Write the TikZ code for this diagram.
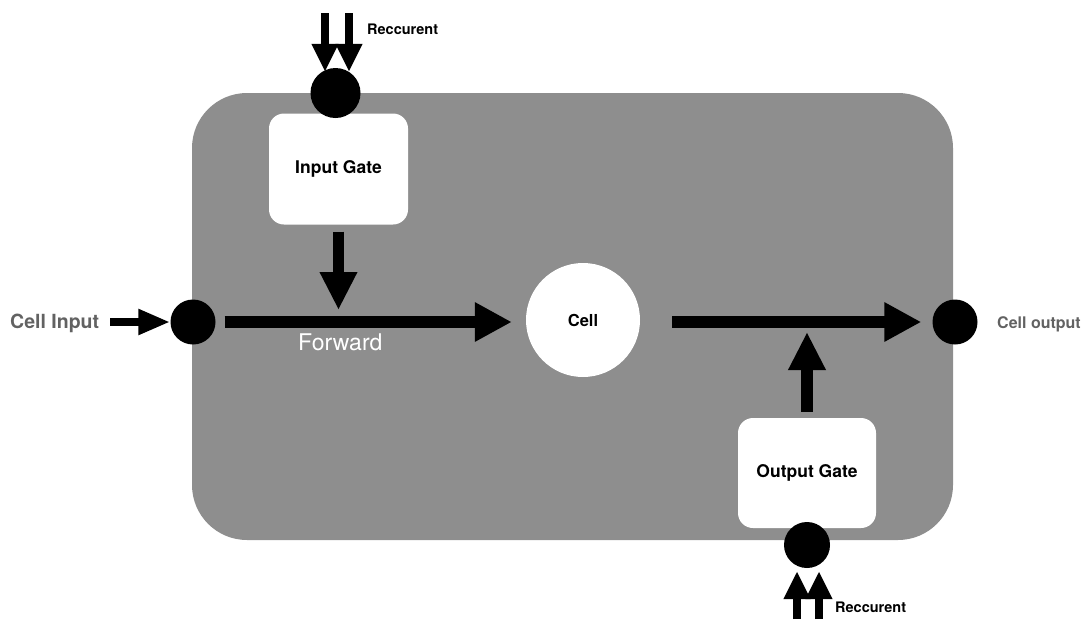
\documentclass[tikz,border=0pt]{standalone}
\usepackage{fontspec}
\setmainfont{TeX Gyre Heros}
\usetikzlibrary{arrows.meta}
\definecolor{cellbg}{RGB}{142,142,142}
\definecolor{labelgray}{RGB}{98,98,98}
\begin{document}
\begin{tikzpicture}[x=1pt,y=-1pt,
  dot/.style={circle,fill=black,inner sep=0pt,minimum size=#1},
  gatebox/.style={rectangle,rounded corners=15pt,fill=white,
    minimum width=139pt,minimum height=111pt,inner sep=0pt,
    font=\fontsize{17.5}{20}\selectfont\bfseries},
  bigarrow/.style={line width=12pt,-{Triangle[length=37pt,width=37pt]}},
  gatearrow/.style={line width=11.5pt,-{Triangle[length=38pt,width=35pt]}},
  smallarrow/.style={line width=8pt,-{Triangle[length=32pt,width=24pt]}},
  recarrow/.style={line width=8pt,-{Triangle[length=28pt,width=25pt]}},
  reclabel/.style={anchor=base west,inner sep=0pt,font=\fontsize{14.5}{17}\selectfont\bfseries},
  sidelabel/.style={anchor=base west,inner sep=0pt,text=labelgray}
]
\useasboundingbox (0,0) rectangle (1084,619);

% memory block background
\fill[cellbg,rounded corners=55pt] (192,93) rectangle (953,540);

% gates and cell
\node[gatebox] (ig) at (338.5,169) {Input Gate};
\node[gatebox,minimum height=110pt,minimum width=138pt] (og) at (807,473) {Output Gate};
\node[circle,fill=white,inner sep=0pt,minimum size=114pt,
      font=\fontsize{16.5}{19}\selectfont\bfseries] (cell) at (583,320) {Cell};

% junction dots
\node[dot=50pt] (tin) at (335.5,93) {};
\node[dot=46pt] (bout) at (807,545) {};
\node[dot=45pt] (lin) at (193,322) {};
\node[dot=45pt] (rout) at (955,322) {};

% labels
\node[sidelabel,font=\fontsize{19.5}{23}\selectfont\bfseries] (cin) at (10,328) {Cell Input};
\node[sidelabel,font=\fontsize{16}{19}\selectfont\bfseries] (cout) at (997,328) {Cell output};
\node[anchor=base west,inner sep=0pt,text=white,font=\fontsize{23}{27}\selectfont] (fwd) at (298,350) {Forward};
\node[reclabel] (rtop) at (367,34) {Reccurent};
\node[reclabel] (rbot) at (835,612) {Reccurent};

% recurrent inputs
\coordinate (ra) at (325,13);
\coordinate (rb) at (349,13);
\coordinate (rc) at (797,619);
\coordinate (rd) at (819,619);
\draw[recarrow,shorten >=-4pt] (ra) -- (ra |- tin.north);
\draw[recarrow,shorten >=-4pt] (rb) -- (rb |- tin.north);
\draw[recarrow,shorten >=3pt] (rc) -- (rc |- bout.south);
\draw[recarrow,shorten >=3pt] (rd) -- (rd |- bout.south);

% main data path
\draw[smallarrow,shorten <=11pt] (cin.east |- lin) -- (lin.west);
\draw[bigarrow,shorten <=9pt,shorten >=14pt] (lin.east) -- (lin -| cell.west);
\draw[bigarrow,shorten <=32pt,shorten >=11pt] (lin -| cell.east) -- (rout.west);

% gate control arrows
\draw[gatearrow,shorten <=7pt,shorten >=12pt] (ig.south) -- (ig.south |- lin);
\draw[gatearrow,shorten <=6pt,shorten >=10pt] (og.north) -- (og.north |- lin);
\end{tikzpicture}
\end{document}
